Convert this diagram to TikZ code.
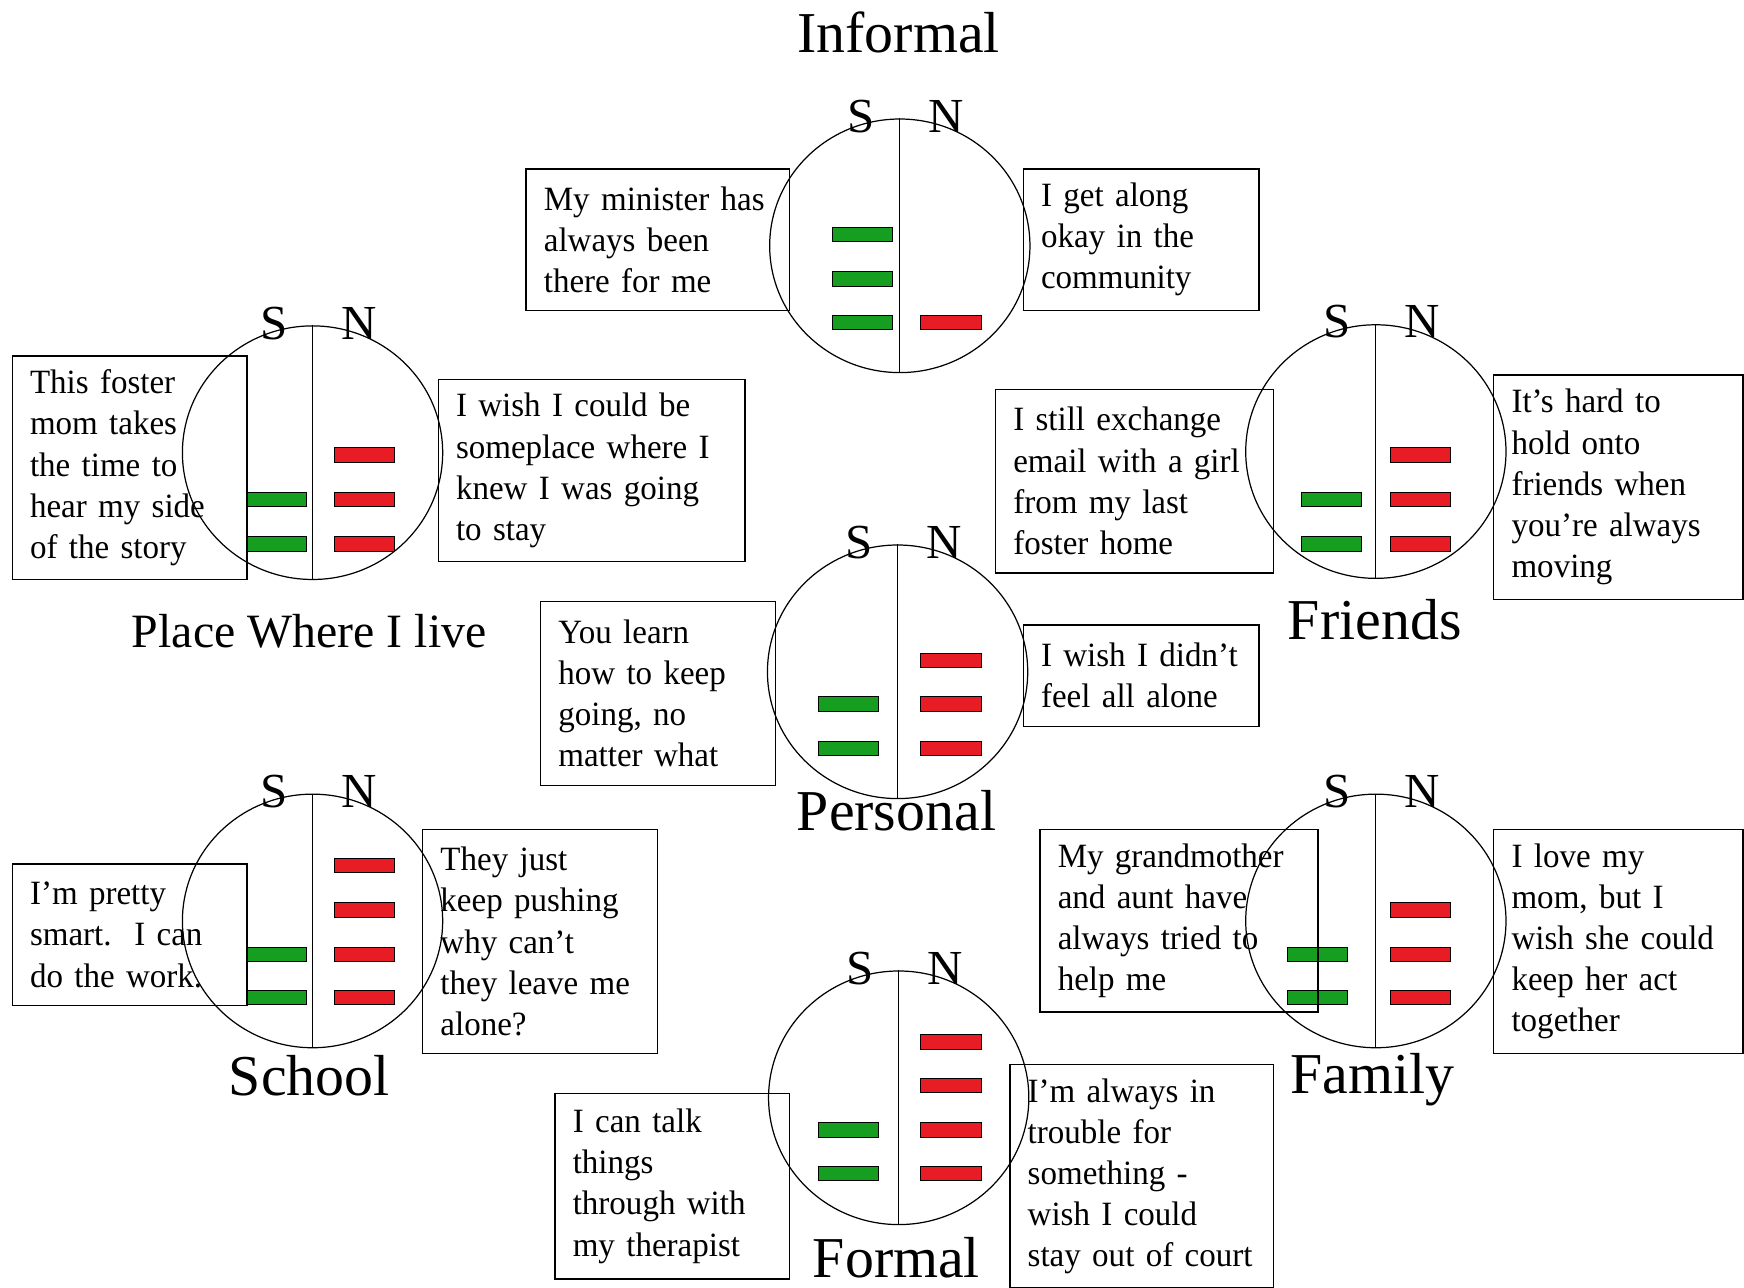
\documentclass[tikz,border=0pt]{standalone}
\usepackage{fontspec}
\setmainfont{Liberation Serif}
\newfontfamily\quotefont{Liberation Serif}[FakeStretch=0.97]
\usetikzlibrary{shapes.geometric}

\definecolor{sgreen}{RGB}{22,158,32}
\definecolor{nred}{RGB}{232,28,36}

\tikzset{
  hub/.style={draw, ellipse, line width=1.1pt, minimum width=234pt,
    minimum height=228pt, inner sep=0pt},
  divider/.style={line width=1.1pt},
  sn/.style={font=\fontsize{44}{44}\selectfont, inner sep=0pt},
  area/.style={font=\fontsize{52}{60}\selectfont, inner sep=0pt, anchor=base},
  quote/.style={draw, line width=1.3pt, align=left, inner xsep=16pt,
    inner ysep=0pt, font=\quotefont\fontsize{30.6}{37}\selectfont},
  sbar/.style={draw, line width=0.9pt, fill=sgreen, minimum width=54pt,
    minimum height=13pt, inner sep=0pt},
  nbar/.style={sbar, fill=nred},
}

\begin{document}
\begin{tikzpicture}[x=1pt,y=-1pt]
  \useasboundingbox (0,0) rectangle (1568,1158);

  % circles
  \node[hub] (inf) at (809,221) {};
  \node[hub] (plc) at (281,407) {};
  \node[hub] (frn) at (1237,406) {};
  \node[hub] (per) at (807,604) {};
  \node[hub] (sch) at (281,828) {};
  \node[hub] (fam) at (1237,828) {};
  \node[hub] (frm) at (808,987) {};

  \foreach \h in {inf,plc,frn,per,sch,fam,frm}{
    \draw[divider] (\h.north) -- (\h.south);
    \node[sn] (\h-S) at ([xshift=-35pt,yshift=2pt]\h.north) {S};
    \node[sn] (\h-N) at ([xshift=42pt,yshift=2pt]\h.north) {N};
  }

  % strengths and needs
  \foreach \y [count=\i] in {211,251,290} \node[sbar] (inf-s\i) at (775.5,\y) {};
  \foreach \y [count=\i] in {290} \node[nbar] (inf-n\i) at (855,\y) {};

  \foreach \y [count=\i] in {449,489} \node[sbar] (plc-s\i) at (248.5,\y) {};
  \foreach \y [count=\i] in {409,449,489} \node[nbar] (plc-n\i) at (327.5,\y) {};

  \foreach \y [count=\i] in {449,489} \node[sbar] (frn-s\i) at (1197.5,\y) {};
  \foreach \y [count=\i] in {409,449,489} \node[nbar] (frn-n\i) at (1277.5,\y) {};

  \foreach \y [count=\i] in {633,673} \node[sbar] (per-s\i) at (762.5,\y) {};
  \foreach \y [count=\i] in {594,633,673} \node[nbar] (per-n\i) at (855,\y) {};

  \foreach \y [count=\i] in {858,897} \node[sbar] (sch-s\i) at (248.5,\y) {};
  \foreach \y [count=\i] in {778,818,858,897} \node[nbar] (sch-n\i) at (327.5,\y) {};

  \foreach \y [count=\i] in {858,897} \node[sbar] (fam-s\i) at (1184.5,\y) {};
  \foreach \y [count=\i] in {818,858,897} \node[nbar] (fam-n\i) at (1277.5,\y) {};

  \foreach \y [count=\i] in {1016,1055} \node[sbar] (frm-s\i) at (762.5,\y) {};
  \foreach \y [count=\i] in {937,976,1016,1055} \node[nbar] (frm-n\i) at (855,\y) {};

  % quotes
  \node[quote, text width=205pt, minimum height=127pt] (inf-sq) at (591.5,215.5)
    {My minister has\\always been\\there for me};
  \node[quote, text width=180pt, minimum height=127pt] (inf-nq) at (1026,215.5)
    {I get along\\okay in the\\community};

  \node[quote, text width=179pt, minimum height=201pt] (plc-sq) at (116.5,420.5)
    {This foster\\mom takes\\the time to\\hear my side\\of the story};
  \node[quote, text width=244pt, minimum height=164pt] (plc-nq) at (532,423)
    {I wish I could be\\someplace where I\\knew I was going\\to stay};

  \node[quote, text width=218pt, minimum height=165pt] (frn-sq) at (1020,432.5)
    {I still exchange\\email with a girl\\from my last\\foster home};
  \node[quote, text width=192pt, minimum height=202pt] (frn-nq) at (1455,438)
    {It’s hard to\\hold onto\\friends when\\you’re always\\moving};

  \node[quote, text width=179pt, minimum height=165pt] (per-sq) at (591.5,623.5)
    {You learn\\how to keep\\going, no\\matter what};
  \node[quote, text width=180pt, minimum height=91pt] (per-nq) at (1026,607.5)
    {I wish I didn’t\\feel all alone};

  \node[quote, text width=179pt, minimum height=127pt] (sch-sq) at (116.5,840.5)
    {I’m pretty\\smart.\ \ I can\\do the work.};
  \node[quote, text width=179pt, minimum height=201pt] (sch-nq) at (485.5,846.5)
    {They just\\keep pushing\\why can’t\\they leave me\\alone?};

  \node[quote, text width=218pt, minimum height=164pt] (fam-sq) at (1060,828)
    {My grandmother\\and aunt have\\always tried to\\help me};
  \node[quote, text width=192pt, minimum height=201pt] (fam-nq) at (1455,846.5)
    {I love my\\mom, but I\\wish she could\\keep her act\\together};

  \node[quote, text width=179pt, minimum height=167pt] (frm-sq) at (604.5,1066.5)
    {I can talk\\things\\through with\\my therapist};
  \node[quote, text width=205pt, minimum height=201pt] (frm-nq) at (1026.5,1057.5)
    {I’m always in\\trouble for\\something -\\wish I could\\stay out of court};

  % area names
  \node[area] (inf-t) at (808,47) {Informal};
  \node[area, font=\fontsize{43}{50}\selectfont] (plc-t) at (278,582) {Place Where I live};
  \node[area] (frn-t) at (1236,575) {Friends};
  \node[area] (per-t) at (806,747) {Personal};
  \node[area] (sch-t) at (278,985) {School};
  \node[area] (fam-t) at (1234,983) {Family};
  \node[area] (frm-t) at (806,1149) {Formal};
\end{tikzpicture}
\end{document}
